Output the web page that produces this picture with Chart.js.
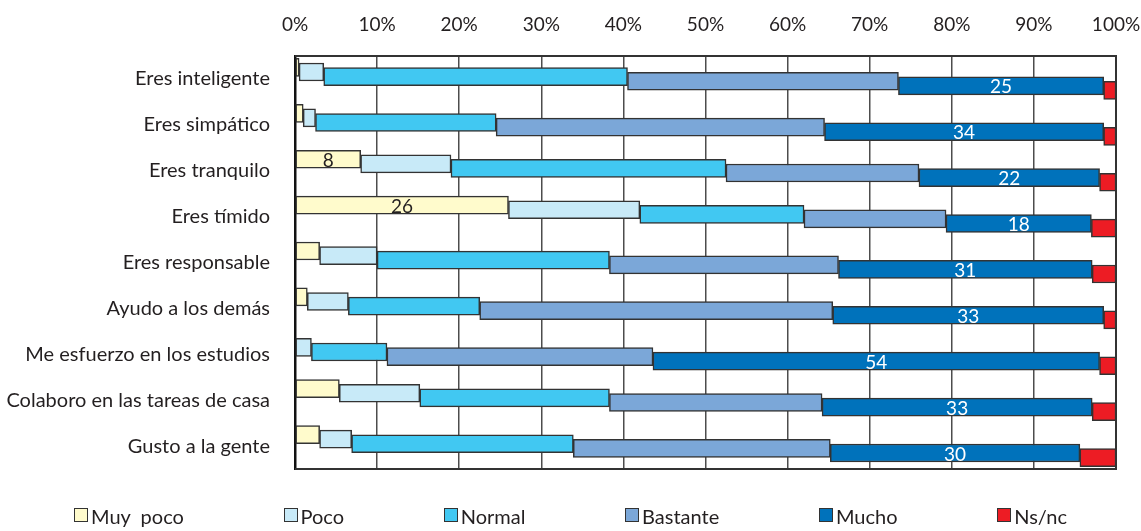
<!DOCTYPE html>
<html>
<head>
<meta charset="utf-8">
<script src="https://cdn.jsdelivr.net/npm/chart.js@4/dist/chart.umd.min.js"></script>
<style>
  body { margin: 0; background: #fff; }
  #wrap { position: relative; width: 1141px; height: 531px; }
  #legend { position: absolute; left: 74px; right: 74px; top: 504px; display: flex; justify-content: space-between;
            font: 20px Lato; color: #231f20; }
  .item { display: flex; align-items: flex-start; }
  .box { width: 14px; height: 14px; border: 1.5px solid #333; box-sizing: border-box; margin: 4px 3px 0 0; }
</style>
</head>
<body>
<div id="wrap">
  <canvas id="chart" width="1141" height="531"></canvas>
  <div id="legend"></div>
</div>
<script>
const categories = ['Eres inteligente', 'Eres simpático', 'Eres tranquilo', 'Eres tímido', 'Eres responsable',
  'Ayudo a los demás', 'Me esfuerzo en los estudios', 'Colaboro en las tareas de casa', 'Gusto a la gente'];

const seriesNames = ['Muy  poco', 'Poco', 'Normal', 'Bastante', 'Mucho', 'Ns/nc'];
const muyPoco  = [0.5, 1, 8, 26, 3, 1.5, 0, 5.4, 3];
const poco     = [3, 1.5, 11, 16, 7, 5, 2, 9.8, 3.9];
const normal   = [37, 22, 33.5, 20, 28.3, 16, 9.2, 23.1, 27];
const bastante = [33, 40, 23.5, 17.3, 27.9, 43, 32.4, 25.9, 31.3];
const mucho    = [25, 34, 22, 17.7, 30.9, 33, 54.4, 32.9, 30.4];
const nsnc     = [1.5, 1.5, 2, 3, 2.9, 1.5, 2, 2.9, 4.4];

const colors = ['#fffbcc', '#c8eaf8', '#41c8f2', '#7ba7d8', '#0072bb', '#ed1c24'];
const labelColors = ['#231f20', null, null, null, '#ffffff', null];

const STEP = 4.6; // each series sits a bit lower than the previous one
function shiftFor(i) { return (i - 2.5) * STEP; }

const staircase = {
  id: 'staircase',
  beforeDatasetDraw(chart, args) {
    const ctx = chart.ctx;
    ctx.save();
    ctx.translate(0, shiftFor(args.index));
  },
  afterDatasetDraw(chart, args) {
    chart.ctx.restore();
  }
};

// right and bottom edge of the plot box
const frame = {
  id: 'frame',
  beforeDatasetsDraw(chart) {
    const {ctx, chartArea} = chart;
    ctx.save();
    ctx.strokeStyle = '#333';
    ctx.lineWidth = 2;
    ctx.beginPath();
    ctx.moveTo(chartArea.left, chartArea.bottom);
    ctx.lineTo(chartArea.right, chartArea.bottom);
    ctx.lineTo(chartArea.right, chartArea.top);
    ctx.lineTo(chartArea.left, chartArea.top);
    ctx.stroke();
    ctx.restore();
  }
};

const barLabels = {
  id: 'barLabels',
  afterDatasetsDraw(chart) {
    const ctx = chart.ctx;
    ctx.save();
    ctx.font = '19px Lato';
    ctx.textAlign = 'center';
    ctx.textBaseline = 'middle';
    chart.data.datasets.forEach((ds, i) => {
      if (!labelColors[i]) return;
      const meta = chart.getDatasetMeta(i);
      meta.data.forEach((bar, j) => {
        const v = ds.data[j];
        if (v < 8) return;
        ctx.fillStyle = labelColors[i];
        ctx.fillText(Math.round(v), (bar.x + bar.base) / 2, bar.y + shiftFor(i) + 1.5);
      });
    });
    ctx.restore();
  }
};

const values = [muyPoco, poco, normal, bastante, mucho, nsnc];
const datasets = values.map((arr, i) => ({
  label: seriesNames[i],
  data: arr,
  backgroundColor: colors[i],
  borderColor: '#333',
  borderWidth: 1.5,
  borderSkipped: false,
  barThickness: 18
}));

new Chart(document.getElementById('chart'), {
  type: 'bar',
  data: { labels: categories, datasets: datasets },
  options: {
    indexAxis: 'y',
    responsive: false,
    animation: false,
    devicePixelRatio: 1,
    layout: { padding: { left: 0, right: 25, top: 0, bottom: 62 } },
    scales: {
      x: {
        position: 'top',
        stacked: true,
        min: 0,
        max: 100,
        afterFit(scale) {
          scale.height = 56;
          scale.paddingLeft = 0;
          scale.paddingRight = 0;
        },
        grid: { color: '#4d4d4d', lineWidth: 1.5, drawTicks: false },
        border: { display: true, color: '#333', width: 2 },
        ticks: {
          stepSize: 10,
          padding: 20,
          color: '#231f20',
          font: { family: 'Lato', size: 19 },
          callback: v => v + '%'
        }
      },
      y: {
        stacked: true,
        afterFit(scale) { scale.width = 295; },
        grid: { display: false, drawTicks: false },
        border: { display: true, color: '#111', width: 2.5 },
        ticks: {
          padding: 25,
          color: '#231f20',
          font: { family: 'Lato', size: 20 }
        }
      }
    },
    plugins: {
      legend: { display: false },
      tooltip: { enabled: false }
    }
  },
  plugins: [frame, staircase, barLabels]
});

// legend below the chart
const legend = document.getElementById('legend');
seriesNames.forEach((name, i) => {
  const item = document.createElement('div');
  item.className = 'item';
  const box = document.createElement('span');
  box.className = 'box';
  box.style.background = colors[i];
  const txt = document.createElement('span');
  txt.textContent = name;
  txt.style.whiteSpace = 'pre';
  item.appendChild(box);
  item.appendChild(txt);
  legend.appendChild(item);
});
</script>
</body>
</html>
